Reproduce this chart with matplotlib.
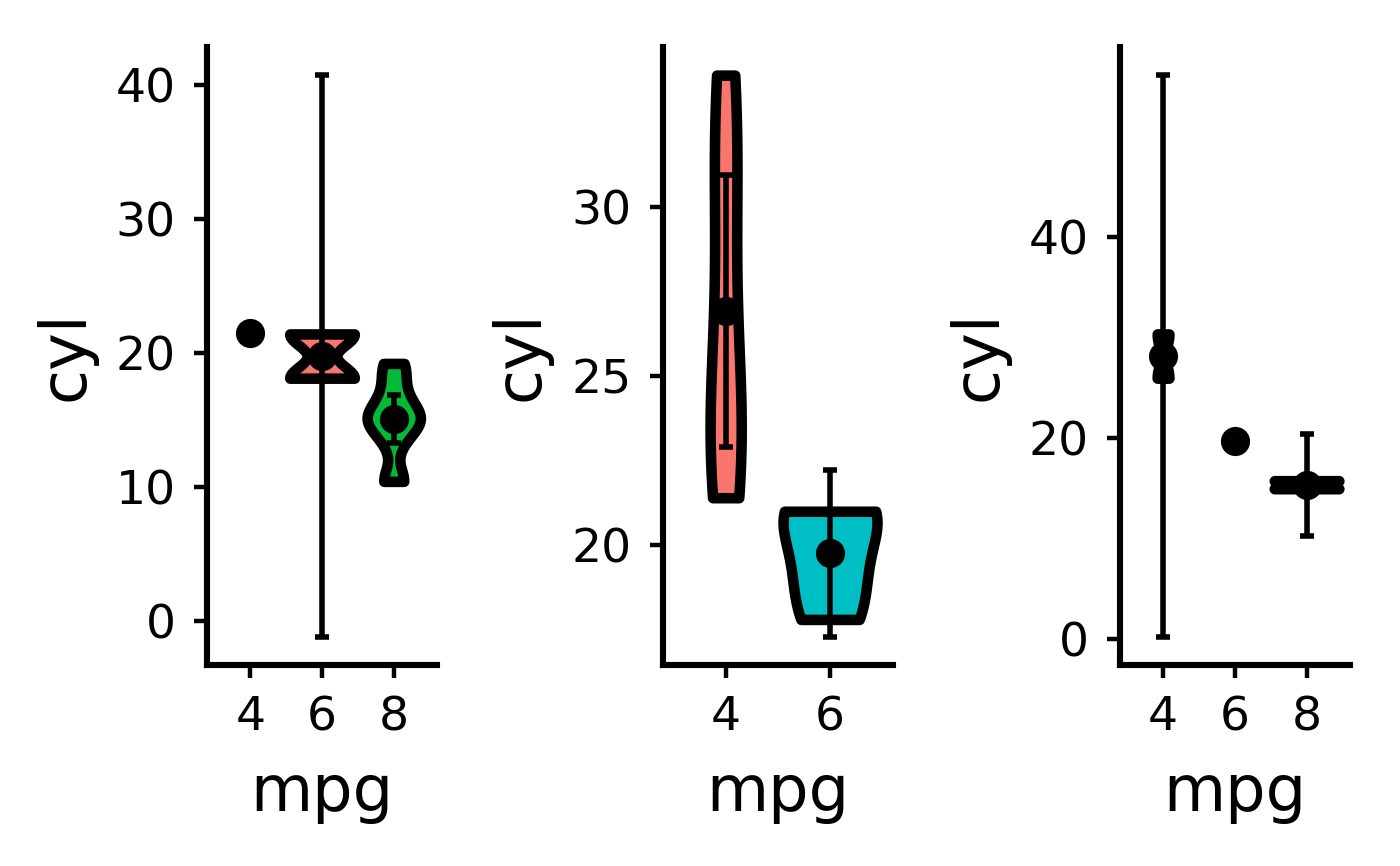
import numpy as np
import matplotlib
matplotlib.use("Agg")
import matplotlib.pyplot as plt

# mpg values per cylinder group, one panel per gear (3, 4, 5)
gear3_cyl = ["4", "6", "8"]
gear3_mpg = [
    [21.5],
    [21.4, 18.1],
    [18.7, 14.3, 16.4, 17.3, 15.2, 10.4, 10.4, 14.7, 15.5, 15.2, 13.3, 19.2],
]
gear4_cyl = ["4", "6"]
gear4_mpg = [
    [22.8, 24.4, 22.8, 32.4, 30.4, 33.9, 27.3, 21.4],
    [21.0, 21.0, 19.2, 17.8],
]
gear5_cyl = ["4", "6", "8"]
gear5_mpg = [
    [26.0, 30.4],
    [19.7],
    [15.8, 15.0],
]

gear3_fill = ["#F8766D", "#F8766D", "#00BA38"]
gear4_fill = ["#F8766D", "#00BFC4"]
gear5_fill = ["#F8766D", "#F8766D", "#00BA38"]

gear3_yticks = [0, 10, 20, 30, 40]
gear4_yticks = [20, 25, 30]
gear5_yticks = [0, 20, 40]

# two-sided 95% t quantiles by degrees of freedom
T975 = {1: 12.706, 2: 4.303, 3: 3.182, 4: 2.776, 5: 2.571, 6: 2.447,
        7: 2.365, 8: 2.306, 9: 2.262, 10: 2.228, 11: 2.201}


def nrd0(x):
    x = np.asarray(x, float)
    sd = x.std(ddof=1)
    q1, q3 = np.percentile(x, [25, 75])
    lo = min(sd, (q3 - q1) / 1.34)
    if lo == 0:
        lo = sd
    return 0.9 * lo * len(x) ** -0.2


def density(x):
    x = np.asarray(x, float)
    grid = np.linspace(x.min(), x.max(), 512)
    bw = nrd0(x)
    z = (grid[:, None] - x[None, :]) / bw
    d = np.exp(-0.5 * z ** 2).sum(axis=1) / (len(x) * bw * np.sqrt(2 * np.pi))
    return grid, d


def draw_panel(ax, cyls, groups, fills, yticks):
    pos = np.arange(1, len(cyls) + 1)
    dens = [density(g) if len(g) > 1 else None for g in groups]
    dmax = max(d[1].max() for d in dens if d is not None)
    lo, hi = [], []
    for p, g, d, fc in zip(pos, groups, dens, fills):
        if d is None:
            continue
        y, w = d
        half = 0.45 * w / dmax
        ax.fill_betweenx(y, p - half, p + half, facecolor=fc, edgecolor="black",
                         linewidth=3.8, joinstyle="round", zorder=2)
        lo.append(y.min()); hi.append(y.max())
    for p, g in zip(pos, groups):
        g = np.asarray(g, float)
        m = g.mean()
        if len(g) > 1:
            ci = T975[len(g) - 1] * g.std(ddof=1) / np.sqrt(len(g))
            ax.errorbar(p, m, yerr=ci, color="black", elinewidth=2.0,
                        capsize=2.6, capthick=2.0, fmt="none", zorder=3)
            lo.append(m - ci); hi.append(m + ci)
        ax.plot(p, m, "o", color="black", markersize=9.5, zorder=4)
        lo.append(m); hi.append(m)
    ymin, ymax = min(lo), max(hi)
    pad = 0.05 * (ymax - ymin)
    ax.set_ylim(ymin - pad, ymax + pad)
    ax.set_xlim(0.4, len(cyls) + 0.6)
    ax.set_xticks(pos)
    ax.set_xticklabels(cyls)
    ax.set_yticks(yticks)
    ax.spines["top"].set_visible(False)
    ax.spines["right"].set_visible(False)
    for s in ("left", "bottom"):
        ax.spines[s].set_linewidth(2.2)
        ax.spines[s].set_capstyle("projecting")
    ax.tick_params(width=1.6, length=4.8, labelsize=17, colors="black")
    ax.tick_params(axis="y", pad=6.5)
    ax.tick_params(axis="x", pad=6)
    ax.set_xlabel("mpg", fontsize=23, labelpad=8)
    ax.set_ylabel("cyl", fontsize=23, labelpad=7)


plt.rcParams["font.family"] = ["DejaVu Sans"]
fig = plt.figure(figsize=(7, 4.33), dpi=200)
lefts = [0.148, 0.4736, 0.8]
panels = [
    (gear3_cyl, gear3_mpg, gear3_fill, gear3_yticks),
    (gear4_cyl, gear4_mpg, gear4_fill, gear4_yticks),
    (gear5_cyl, gear5_mpg, gear5_fill, gear5_yticks),
]
for left, (cyls, groups, fills, yt) in zip(lefts, panels):
    ax = fig.add_axes([left, 0.232, 0.164, 0.7137])
    draw_panel(ax, cyls, groups, fills, yt)

fig.savefig("out.png", dpi=200, facecolor="white")
